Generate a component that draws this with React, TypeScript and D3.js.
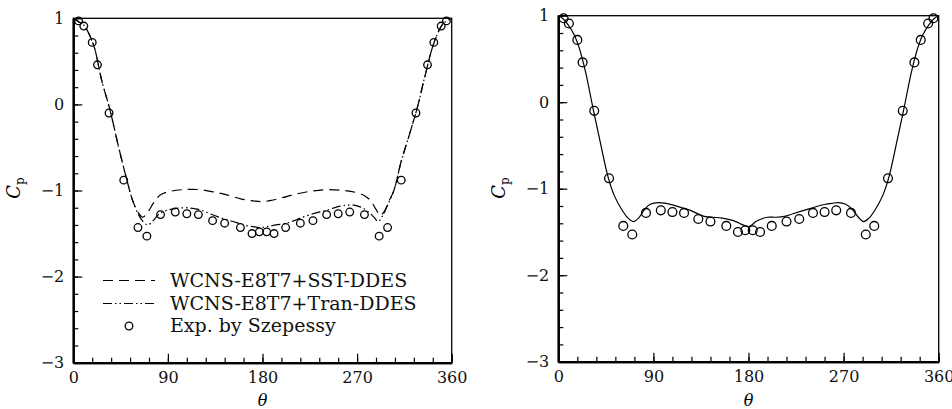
import React, { useRef, useEffect } from 'react';
import * as d3 from 'd3';

// experiment (Szepessy), same points in both panels
const expTheta = [5, 10, 18, 23, 34, 48, 61.5, 70, 83, 97, 108, 119, 132.5, 144, 159, 170, 177, 184, 191, 202, 216, 228, 241, 252, 263, 277, 291, 299, 312, 326, 337, 343, 350, 355];
const expCp = [0.97, 0.91, 0.72, 0.46, -0.1, -0.88, -1.43, -1.53, -1.28, -1.25, -1.27, -1.28, -1.35, -1.38, -1.43, -1.5, -1.48, -1.48, -1.5, -1.43, -1.38, -1.35, -1.28, -1.27, -1.25, -1.28, -1.53, -1.43, -0.88, -0.1, 0.46, 0.72, 0.91, 0.97];

// WCNS-E8T7+SST-DDES (dashed)
const sstTheta = [0, 5, 10, 19, 27, 35, 43, 51, 56, 61, 66, 70, 76, 83, 92, 105, 120, 135, 146, 160, 171, 180, 190, 200, 209, 225, 241, 257, 268, 277, 283, 288, 292, 296, 300, 305, 312, 319, 327, 334, 343, 352, 360];
const sstCp = [1.0, 0.96, 0.92, 0.7, 0.28, -0.07, -0.49, -0.88, -1.1, -1.24, -1.31, -1.27, -1.15, -1.05, -1.01, -0.99, -0.99, -1.02, -1.05, -1.1, -1.12, -1.13, -1.11, -1.08, -1.05, -1.01, -0.99, -1.0, -1.02, -1.06, -1.12, -1.22, -1.29, -1.24, -1.13, -1.0, -0.66, -0.38, -0.05, 0.3, 0.71, 0.94, 1.0];

// WCNS-E8T7+Tran-DDES (dash-dot-dot)
const tranTheta = [0, 5, 10, 19, 27, 35, 43, 51, 56, 62, 67, 71, 76, 82, 89, 97, 107, 115, 122, 130, 141, 152, 162, 171, 178, 184, 193, 203, 210, 216, 228, 241, 251, 260, 267, 273, 280, 286, 290, 294, 299, 305, 312, 319, 327, 334, 343, 352, 360];
const tranCp = [1.0, 0.96, 0.92, 0.7, 0.28, -0.07, -0.49, -0.88, -1.1, -1.28, -1.37, -1.4, -1.35, -1.27, -1.23, -1.21, -1.2, -1.21, -1.23, -1.27, -1.32, -1.36, -1.4, -1.42, -1.43, -1.42, -1.4, -1.38, -1.35, -1.32, -1.27, -1.23, -1.19, -1.17, -1.17, -1.19, -1.24, -1.31, -1.36, -1.3, -1.17, -1.0, -0.66, -0.38, -0.05, 0.3, 0.71, 0.94, 1.0];

// right panel solid line
const rightTheta = [0, 4, 9, 15, 20, 26, 33, 40, 47, 53, 60, 66, 71, 76, 81, 87, 95, 102, 109, 117, 125, 132, 138, 146, 155, 163, 168, 173, 177, 180, 183, 187, 192, 198, 206, 214, 222, 230, 238, 246, 253, 259, 265, 272, 279, 284, 289, 294, 300, 307, 313, 320, 327, 334, 340, 345, 351, 356, 360];
const rightCp = [1.0, 0.97, 0.9, 0.78, 0.62, 0.34, -0.08, -0.48, -0.86, -1.08, -1.24, -1.34, -1.38, -1.34, -1.25, -1.18, -1.16, -1.17, -1.19, -1.22, -1.25, -1.29, -1.32, -1.33, -1.34, -1.36, -1.38, -1.41, -1.43, -1.44, -1.42, -1.38, -1.35, -1.33, -1.33, -1.32, -1.29, -1.26, -1.23, -1.2, -1.18, -1.17, -1.16, -1.18, -1.25, -1.33, -1.38, -1.34, -1.24, -1.08, -0.86, -0.48, -0.08, 0.34, 0.62, 0.78, 0.9, 0.97, 1.0];

const thetaTicks = [0, 90, 180, 270, 360];
const cpTicks = [-3, -2, -1, 0, 1];

const legendLabels = ['WCNS-E8T7+SST-DDES', 'WCNS-E8T7+Tran-DDES', 'Exp. by Szepessy'];

const FONT = '"DejaVu Serif", serif';
const DASHED = '10,6';
const DASHDOT = '9,3,1.5,3,1.5,3';

type Series = { theta: number[]; cp: number[]; dash: string | null };

const zip = (a: number[], b: number[]) => a.map((v, i) => [v, b[i]] as [number, number]);

const drawPanel = (svg: any, box: { left: number; right: number; top: number; bottom: number }, series: Series[], circleR: number) => {
  const x = d3.scaleLinear().domain([0, 360]).range([box.left, box.right]);
  const y = d3.scaleLinear().domain([-3, 1]).range([box.bottom, box.top]);
  const g = svg.append('g');

  // frame (top and right sides have no ticks)
  g.append('rect')
    .attr('x', box.left).attr('y', box.top)
    .attr('width', box.right - box.left).attr('height', box.bottom - box.top)
    .attr('fill', 'none').attr('stroke', '#000').attr('stroke-width', 1.3);

  // minor ticks
  g.append('g')
    .attr('transform', `translate(0,${box.bottom})`)
    .call(d3.axisBottom(x).tickValues(d3.range(0, 361, 18)).tickSize(-5).tickSizeOuter(0).tickFormat(() => ''));
  g.append('g')
    .attr('transform', `translate(${box.left},0)`)
    .call(d3.axisLeft(y).tickValues(d3.range(-3, 1.001, 0.2)).tickSize(-5).tickSizeOuter(0).tickFormat(() => ''));

  // major ticks + labels
  g.append('g')
    .attr('class', 'xaxis')
    .attr('transform', `translate(0,${box.bottom})`)
    .call(d3.axisBottom(x).tickValues(thetaTicks).tickSize(-9).tickSizeOuter(0).tickPadding(9).tickFormat(d3.format('d')));
  g.append('g')
    .attr('class', 'yaxis')
    .attr('transform', `translate(${box.left},0)`)
    .call(d3.axisLeft(y).tickValues(cpTicks).tickSize(-9).tickSizeOuter(0).tickPadding(9).tickFormat(d3.format('d')));

  g.selectAll('.domain').attr('stroke-width', 2);
  g.selectAll('.tick line').attr('stroke-width', 1.2);
  g.selectAll('.tick text').attr('font-family', FONT).attr('font-size', 16).attr('fill', '#111');

  // axis titles
  g.append('text')
    .attr('x', (box.left + box.right) / 2).attr('y', 406)
    .attr('text-anchor', 'middle')
    .attr('font-family', FONT).attr('font-style', 'italic').attr('font-size', 16)
    .text('θ');

  const cpLabel = g.append('text')
    .attr('transform', `translate(${box.left - 53},188) rotate(-90)`)
    .attr('text-anchor', 'middle')
    .attr('font-family', FONT).attr('font-size', 18);
  cpLabel.append('tspan').attr('font-style', 'italic').text('C');
  cpLabel.append('tspan').attr('font-size', 12).attr('dy', 4).text('p');

  const line = d3.line<[number, number]>()
    .x(d => x(d[0]))
    .y(d => y(d[1]))
    .curve(d3.curveCatmullRom.alpha(0.5));

  series.forEach(s => {
    g.append('path')
      .datum(zip(s.theta, s.cp))
      .attr('d', line)
      .attr('fill', 'none')
      .attr('stroke', '#000')
      .attr('stroke-width', 1.2)
      .attr('stroke-dasharray', s.dash);
  });

  g.selectAll('.exp')
    .data(zip(expTheta, expCp))
    .enter().append('circle')
    .attr('class', 'exp')
    .attr('cx', (d: [number, number]) => x(d[0]))
    .attr('cy', (d: [number, number]) => y(d[1]))
    .attr('r', circleR)
    .attr('fill', 'none')
    .attr('stroke', '#000')
    .attr('stroke-width', 1.3);

  return g;
};

const App = () => {
  const svgRef = useRef<SVGSVGElement>(null);

  useEffect(() => {
    const svg = d3.select(svgRef.current);
    svg.selectAll('*').remove();

    const leftPanel = drawPanel(svg, { left: 73.3, right: 451.7, top: 18.3, bottom: 362.7 }, [
      { theta: sstTheta, cp: sstCp, dash: DASHED },
      { theta: tranTheta, cp: tranCp, dash: DASHDOT },
    ], 3.8);

    drawPanel(svg, { left: 558.3, right: 938.7, top: 15.7, bottom: 361.7 }, [
      { theta: rightTheta, cp: rightCp, dash: null },
    ], 4.4);

    // legend (left panel only)
    const rowY = [280.5, 303.5, 326];
    const legend = leftPanel.append('g');
    legend.append('line').attr('x1', 103).attr('x2', 155).attr('y1', rowY[0]).attr('y2', rowY[0])
      .attr('stroke', '#000').attr('stroke-width', 1.2).attr('stroke-dasharray', DASHED);
    legend.append('line').attr('x1', 103).attr('x2', 155).attr('y1', rowY[1]).attr('y2', rowY[1])
      .attr('stroke', '#000').attr('stroke-width', 1.2).attr('stroke-dasharray', DASHDOT);
    legend.append('circle').attr('cx', 129).attr('cy', rowY[2]).attr('r', 3.8)
      .attr('fill', 'none').attr('stroke', '#000').attr('stroke-width', 1.3);
    legend.selectAll('.legend-text')
      .data(legendLabels)
      .enter().append('text')
      .attr('class', 'legend-text')
      .attr('x', 170)
      .attr('y', (d: string, i: number) => rowY[i] + 6)
      .attr('font-family', FONT)
      .attr('font-size', 19)
      .attr('fill', '#111')
      .text((d: string) => d);
  }, []);

  return (
    <svg
      ref={svgRef}
      width={952}
      height={409}
      style={{ position: 'absolute', left: 0, top: 0, background: '#fff' }}
    />
  );
};

export default App;
